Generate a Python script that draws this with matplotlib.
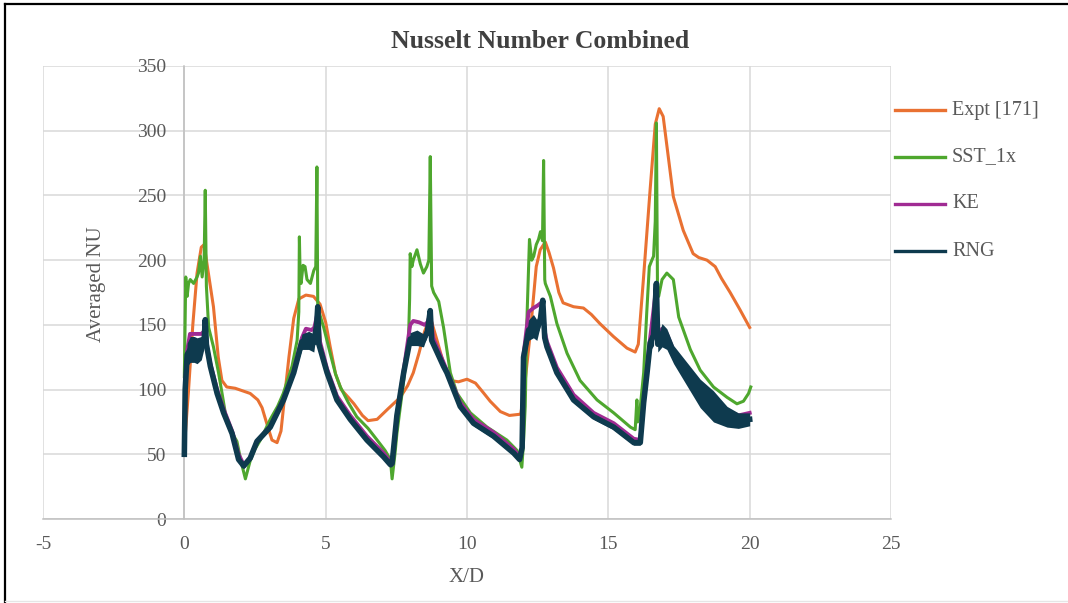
import matplotlib
matplotlib.use("Agg")
import matplotlib.pyplot as plt
from matplotlib.lines import Line2D
import numpy as np

plt.rcParams["axes.unicode_minus"] = False

# ---- data -------------------------------------------------------------
expt_x = [0.0, 0.15, 0.3, 0.45, 0.6, 0.7, 0.85, 1.03, 1.2, 1.33, 1.5, 1.8, 2.33, 2.6,
          2.75, 2.9, 3.1, 3.28, 3.42, 3.55, 3.7, 3.87, 4.05, 4.3, 4.57, 4.8, 5.0, 5.16,
          5.35, 5.55, 5.8, 6.0, 6.3, 6.5, 6.82, 7.2, 7.64, 7.9, 8.1, 8.3, 8.5, 8.7, 8.94,
          9.2, 9.41, 9.7, 10.0, 10.3, 10.6, 10.82, 11.18, 11.5, 11.9, 12.0, 12.24, 12.45,
          12.59, 12.77, 12.9, 13.06, 13.25, 13.4, 13.77, 14.12, 14.4, 14.7, 15.18, 15.66,
          15.95, 16.06, 16.15, 16.24, 16.48, 16.66, 16.8, 16.94, 17.12, 17.3, 17.65, 18.0,
          18.2, 18.49, 18.78, 19.0, 19.31, 19.65, 20.0]
expt_y = [55, 100, 150, 190, 210, 212, 190, 164, 125, 107, 102, 101, 97, 92,
          86, 75, 61, 59, 68, 95, 125, 155, 170, 173, 172, 166, 152, 133,
          112, 100, 94, 89, 80, 76, 77, 85, 94, 103, 113, 128, 145, 156, 138,
          118, 107, 106, 108, 105, 97, 91, 83, 80, 81, 95, 144, 195,
          208, 214, 206, 194, 175, 167, 164, 163, 158, 151, 141, 132,
          129, 135, 160, 185, 255, 305, 317, 311, 280, 249, 223, 205,
          202, 200, 195, 186, 175, 162, 148]

sst_x = [0.0, 0.02, 0.05, 0.1, 0.15, 0.21, 0.33, 0.45, 0.5, 0.57, 0.63, 0.7, 0.74, 0.78,
         0.86, 1.03, 1.21, 1.35, 1.51, 1.7, 1.86, 2.0, 2.16, 2.33, 2.5, 2.69, 3.04, 3.3,
         3.5, 3.81, 3.99, 4.05, 4.07, 4.1, 4.13, 4.2, 4.27, 4.34, 4.46, 4.58, 4.65, 4.69,
         4.72, 4.75, 4.93, 5.16, 5.35, 5.52, 5.8, 6.1, 6.5, 6.82, 7.1, 7.29, 7.35, 7.45,
         7.52, 7.76, 7.93, 7.97, 7.99, 8.05, 8.1, 8.23, 8.35, 8.46, 8.58, 8.65, 8.7, 8.75,
         8.82, 9.0, 9.17, 9.41, 9.65, 10.12, 10.71, 11.41, 11.77, 11.94, 12.0, 12.06,
         12.12, 12.21, 12.29, 12.36, 12.45, 12.53, 12.6, 12.67, 12.71, 12.75, 12.77,
         12.95, 13.18, 13.54, 14.0, 14.6, 15.19, 15.78, 15.95, 16.01, 16.04, 16.1, 16.25,
         16.36, 16.45, 16.54, 16.6, 16.66, 16.7, 16.74, 16.78, 16.9, 17.07, 17.3, 17.49,
         17.9, 18.25, 18.72, 19.2, 19.55, 19.78, 19.96, 20.04]
sst_y = [110, 140, 187, 172, 182, 185, 182, 187, 190, 203, 187, 200, 254, 180,
         148, 133, 113, 95, 74, 66, 60, 45, 31, 45, 54, 61, 77, 87,
         97, 118, 138, 160, 218, 185, 182, 196, 195, 185, 182, 192, 195, 272,
         165, 161, 148, 128, 112, 102, 90, 79, 70, 61, 53, 46, 31, 50,
         66, 107, 138, 170, 205, 195, 200, 208, 197, 190, 195, 200, 280, 180,
         175, 168, 148, 113, 97, 82, 71, 61, 53, 40, 60, 87,
         154, 216, 200, 203, 212, 216, 222, 215, 277, 185, 182,
         172, 151, 128, 107, 92, 82, 71, 69, 92, 75, 80, 113,
         160, 195, 200, 203, 230, 306, 175, 172, 185, 190, 185, 156,
         131, 115, 102, 94, 89, 91, 97, 102]

ke_x = [0.0, 0.03, 0.1, 0.2, 0.45, 0.6, 0.7, 0.74, 0.8, 0.92, 1.16, 1.39, 1.69, 1.92,
        2.1, 2.33, 2.57, 3.04, 3.51, 3.87, 4.16, 4.3, 4.5, 4.6, 4.72, 4.8, 5.05, 5.4,
        5.87, 6.46, 7.05, 7.29, 7.35, 7.52, 7.76, 7.99, 8.1, 8.3, 8.5, 8.6, 8.7, 8.8,
        9.17, 9.76, 10.23, 10.94, 11.65, 11.86, 11.95, 12.0, 12.18, 12.35, 12.5, 12.68,
        12.75, 12.83, 13.18, 13.77, 14.48, 15.19, 15.9, 16.13, 16.25, 16.37, 16.48, 16.7,
        16.75, 16.9, 17.07, 17.31, 17.78, 18.25, 18.72, 19.2, 19.6, 20.0]
ke_y = [50, 105, 130, 143, 143, 143, 145, 150, 133, 120, 100, 85, 68, 50,
        42, 47, 60, 72, 93, 115, 140, 147, 146, 148, 160, 137, 116, 95,
        80, 64, 51, 44, 42, 80, 115, 150, 153, 152, 150, 152, 158, 140,
        121, 90, 77, 67, 54, 48, 55, 127, 160, 163, 165, 168,
        145, 137, 117, 96, 82, 74, 62, 61, 90, 118, 140, 180,
        140, 147, 143, 130, 114, 100, 91, 84, 80, 82]

rng_x = [0.0, 0.03, 0.1, 0.21, 0.35, 0.45, 0.6, 0.7, 0.74, 0.78, 0.92, 1.16, 1.39, 1.69,
         1.92, 2.1, 2.33, 2.57, 3.04, 3.51, 3.87, 4.16, 4.4, 4.58, 4.68, 4.72, 4.76, 5.05,
         5.4, 5.87, 6.46, 7.05, 7.29, 7.35, 7.52, 7.76, 7.99, 8.23, 8.46, 8.6, 8.7, 8.75,
         9.17, 9.29, 9.76, 10.23, 10.94, 11.65, 11.86, 11.95, 12.0, 12.18, 12.35, 12.47,
         12.6, 12.68, 12.75, 12.83, 13.18, 13.77, 14.48, 15.19, 15.9, 16.13, 16.25, 16.37,
         16.48, 16.6, 16.7, 16.75, 16.9, 17.07, 17.31, 17.78, 18.25, 18.72, 19.2, 19.6, 20.0]
rng_y = [50, 100, 127, 131, 131, 130, 132, 138, 154, 135, 118, 97, 82, 66,
         46, 41, 47, 60, 71, 92, 113, 137, 138, 136, 150, 164, 135, 113,
         92, 77, 61, 48, 42, 43, 80, 113, 139, 140, 138, 145, 161, 138,
         118, 113, 87, 74, 64, 51, 46, 55, 125, 146, 149, 146,
         155, 169, 140, 133, 113, 92, 79, 71, 59, 59, 90, 113,
         136, 142, 182, 135, 142, 139, 127, 112, 97, 87, 79, 76, 77]
# half-width of the oscillation band around the RNG trace
rng_spread = [1, 4, 9, 10, 10, 10, 9, 6, 3, 4, 3, 2, 2, 2,
              2, 2, 2, 2, 2, 2, 2, 6, 7, 7, 4, 2, 3, 2,
              2, 2, 2, 2, 2, 2, 2, 2, 5, 6, 5, 3, 2, 3,
              2, 2, 2, 2, 2, 2, 2, 2, 3, 8, 9, 8,
              5, 2, 4, 3, 2, 2, 2, 2, 2, 2, 2, 3,
              6, 8, 3, 6, 9, 8, 7, 9, 11, 12, 8, 6, 5]

series_labels = ["Expt [171]", "SST_1x", "KE", "RNG"]
series_colors = ["#E97132", "#4EA72E", "#A02B93", "#0E3A4E"]

x_ticks = [-5, 0, 5, 10, 15, 20, 25]
y_ticks = [0, 50, 100, 150, 200, 250, 300, 350]

# ---- figure -----------------------------------------------------------
W, H = 1068, 603
fig = plt.figure(figsize=(W / 100, H / 100), dpi=100)
serif = ["Liberation Serif", "DejaVu Serif"]
text_gray = "#595959"

ax = fig.add_axes([43 / W, 1 - 519 / H, (891 - 43) / W, (519 - 66) / H])
ax.set_xlim(-5, 25)
ax.set_ylim(0, 350)
ax.set_xticks(x_ticks)
ax.set_yticks(y_ticks)
ax.grid(True, color="#d9d9d9", linewidth=1.1, zorder=0)
ax.set_axisbelow(True)

for side in ("top", "right"):
    ax.spines[side].set_visible(False)
ax.spines["left"].set_position(("data", 0))
ax.spines["left"].set_color("#bfbfbf")
ax.spines["left"].set_linewidth(1.1)
ax.spines["bottom"].set_color("#bfbfbf")
ax.spines["bottom"].set_linewidth(1.1)
ax.tick_params(axis="both", length=0, labelsize=14, labelcolor=text_gray)
ax.tick_params(axis="y", pad=13)
ax.tick_params(axis="x", pad=12)
for lab in ax.get_xticklabels() + ax.get_yticklabels():
    lab.set_family(serif)

ax.plot(expt_x, expt_y, color=series_colors[0], lw=2.2, zorder=3,
        solid_joinstyle="round")
ax.plot(sst_x, sst_y, color=series_colors[1], lw=2.2, zorder=4,
        solid_joinstyle="round")
ax.plot(ke_x, ke_y, color=series_colors[2], lw=2.8, zorder=5,
        solid_joinstyle="round")
rng_lo = np.array(rng_y) - np.array(rng_spread)
rng_hi = np.array(rng_y) + np.array(rng_spread)
ax.fill_between(rng_x, rng_lo, rng_hi, color=series_colors[3], lw=0, zorder=6)
ax.plot(rng_x, rng_y, color=series_colors[3], lw=4.0, zorder=7,
        solid_joinstyle="round")

# ---- titles and axis labels --------------------------------------------
fig.text(540 / W, 1 - 42 / H, "Nusselt Number Combined", ha="center", va="center",
         fontsize=18.5, fontweight="bold", color="#404040", family=serif)
fig.text(97 / W, 1 - 284 / H, "Averaged NU", ha="center", va="center",
         rotation=90, fontsize=15, color=text_gray, family=serif)
fig.text(467 / W, 1 - 577 / H, "X/D", ha="center", va="center",
         fontsize=15, color=text_gray, family=serif)

# ---- legend ------------------------------------------------------------
legend_rows = [110, 157, 204, 251]
for label, color, row in zip(series_labels, series_colors, legend_rows):
    fig.add_artist(Line2D([895 / W, 945 / W], [1 - row / H, 1 - row / H],
                          transform=fig.transFigure, color=color, lw=2.4))
    fig.text(952 / W, 1 - row / H, label, ha="left", va="center",
             fontsize=14.5, color=text_gray, family=serif)

# ---- outer frame -------------------------------------------------------
fig.add_artist(Line2D([5 / W, 5 / W], [0, 1 - 4 / H], transform=fig.transFigure,
                      color="black", lw=1.6))
fig.add_artist(Line2D([5 / W, 1.0], [1 - 4 / H, 1 - 4 / H], transform=fig.transFigure,
                      color="black", lw=1.6))
fig.add_artist(Line2D([5 / W, 1.0], [1 - 601 / H, 1 - 601 / H],
                      transform=fig.transFigure, color="#e6e6e6", lw=1.0))

fig.savefig("out.png", dpi=100)
